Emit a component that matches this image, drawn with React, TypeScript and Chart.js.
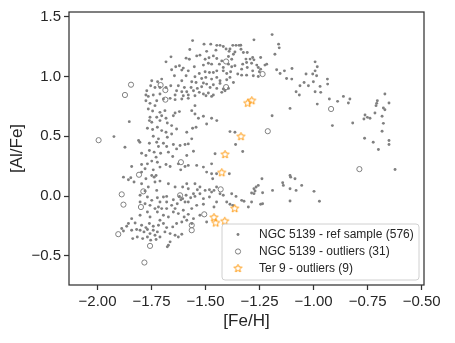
import React, { useEffect, useRef } from "react";
import { Chart, registerables } from "chart.js";

Chart.register(...registerables);

const FONT = "'Liberation Sans', Arial, Helvetica, sans-serif";
const TEXT = "#262626";
const SPINE = "#333333";
const GREY = "#808080";
const ORANGE = "#ff9a10";

const xTicks = [-2.0, -1.75, -1.5, -1.25, -1.0, -0.75, -0.5];
const yTicks = [-0.5, 0.0, 0.5, 1.0, 1.5];
const xRange = [-2.132, -0.489];
const yRange = [-0.744, 1.539];

const legendLabels = [
  "NGC 5139 - ref sample (576)",
  "NGC 5139 - outliers (31)",
  "Ter 9 - outliers (9)",
];

// [Fe/H], [Al/Fe]
const refSample: [number, number][] = [
  [-1.56, 1.3], [-1.507, 1.27], [-1.476, 1.27], [-1.448, 1.26], [-1.433, 1.26], [-1.418, 1.25], [-1.387, 1.23], [-1.374, 1.26], [-1.359, 1.26], [-1.345, 1.26],
  [-1.573, 1.225], [-1.495, 1.21], [-1.452, 1.22], [-1.405, 1.23], [-1.391, 1.21], [-1.364, 1.205], [-1.371, 1.186],
  [-1.66, 1.164], [-1.59, 1.153], [-1.575, 1.144], [-1.541, 1.172], [-1.526, 1.178], [-1.502, 1.144], [-1.484, 1.156], [-1.464, 1.172], [-1.448, 1.15], [-1.425, 1.13], [-1.394, 1.167], [-1.379, 1.144],
  [-1.683, 1.122], [-1.638, 1.081], [-1.621, 1.089], [-1.603, 1.07], [-1.552, 1.081], [-1.51, 1.095], [-1.487, 1.111], [-1.472, 1.103], [-1.436, 1.103], [-1.418, 1.075], [-1.394, 1.103], [-1.379, 1.081], [-1.364, 1.089],
  [-1.657, 1.056], [-1.61, 1.053], [-1.58, 1.047], [-1.529, 1.025], [-1.502, 1.039], [-1.482, 1.033], [-1.464, 1.033], [-1.448, 1.047], [-1.418, 1.047], [-1.402, 1.025], [-1.384, 1.039], [-1.351, 1.02],
  [-1.644, 1.006], [-1.59, 1.006], [-1.549, 0.997], [-1.518, 0.983], [-1.499, 0.992], [-1.472, 0.978], [-1.448, 0.992], [-1.433, 0.964], [-1.402, 0.972], [-1.387, 0.992], [-1.371, 0.95],
  [-1.61, 0.964], [-1.564, 0.956], [-1.544, 0.95], [-1.51, 0.945], [-1.495, 0.936], [-1.464, 0.931], [-1.433, 0.942], [-1.722, 0.956], [-1.703, 0.978], [-1.749, 0.964],
  [-1.754, 0.922], [-1.734, 0.908], [-1.711, 0.908], [-1.683, 0.908], [-1.661, 0.922], [-1.626, 0.922], [-1.598, 0.908], [-1.567, 0.908], [-1.538, 0.9], [-1.518, 0.914], [-1.479, 0.908], [-1.448, 0.9], [-1.418, 0.895], [-1.394, 0.9],
  [-1.772, 0.881], [-1.634, 0.881], [-1.61, 0.872], [-1.587, 0.872], [-1.556, 0.881], [-1.529, 0.867], [-1.51, 0.853], [-1.487, 0.861], [-1.464, 0.845], [-1.425, 0.867], [-1.41, 0.881],
  [-1.776, 0.845], [-1.765, 0.833], [-1.742, 0.845], [-1.711, 0.853], [-1.641, 0.845], [-1.603, 0.839], [-1.58, 0.845], [-1.549, 0.839], [-1.498, 0.839], [-1.472, 0.833],
  [-1.776, 0.797], [-1.757, 0.775], [-1.726, 0.797], [-1.695, 0.811], [-1.664, 0.817], [-1.641, 0.806], [-1.61, 0.811], [-1.58, 0.817], [-1.549, 0.756], [-1.734, 0.756],
  [-1.765, 0.728], [-1.745, 0.711], [-1.711, 0.7], [-1.688, 0.714], [-1.641, 0.695], [-1.621, 0.706], [-1.564, 0.714], [-1.549, 0.686], [-1.51, 0.667],
  [-1.757, 0.659], [-1.726, 0.659], [-1.703, 0.672], [-1.683, 0.65], [-1.649, 0.672], [-1.533, 0.65], [-1.495, 0.603], [-1.472, 0.65],
  [-1.853, 0.622], [-1.76, 0.631], [-1.749, 0.617], [-1.711, 0.631], [-1.677, 0.611], [-1.657, 0.589], [-1.634, 0.561], [-1.723, 0.575], [-1.745, 0.556], [-1.769, 0.567], [-1.703, 0.547], [-1.683, 0.533], [-1.657, 0.519], [-1.587, 0.533], [-1.56, 0.567], [-1.544, 0.575], [-1.448, 0.631], [-1.387, 0.539], [-1.364, 0.533],
  [-1.924, 0.497], [-1.81, 0.464], [-1.742, 0.5], [-1.718, 0.478], [-1.677, 0.492], [-1.564, 0.478],
  [-1.192, 1.35], [-1.276, 1.306], [-1.162, 1.27], [-1.159, 1.239], [-1.337, 1.261], [-1.336, 1.228], [-1.325, 1.2], [-1.307, 1.2], [-1.179, 1.186],
  [-1.313, 1.145], [-1.294, 1.145], [-1.282, 1.158], [-1.276, 1.139], [-1.245, 1.158],
  [-1.328, 1.103], [-1.31, 1.117], [-1.287, 1.111], [-1.263, 1.095], [-1.256, 1.075], [-1.245, 1.061], [-1.225, 1.095], [-1.217, 1.103],
  [-1.333, 1.061], [-1.307, 1.075], [-1.282, 1.047], [-1.251, 1.039], [-1.333, 1.011], [-1.31, 1.011], [-1.279, 1.006], [-1.256, 1.0],
  [-1.171, 1.056], [-1.155, 1.025], [-1.135, 1.047], [-1.1, 1.067], [-1.125, 0.983], [-1.101, 0.978],
  [-0.993, 1.122], [-0.983, 1.081], [-0.993, 1.047], [-1.004, 1.02], [-0.986, 1.006], [-1.035, 1.02], [-1.044, 0.95], [-1.063, 0.922], [-1.024, 0.922], [-1.001, 0.956], [-0.97, 0.917], [-0.936, 0.978], [-0.935, 0.936],
  [-1.081, 0.872], [-1.066, 0.845], [-0.993, 0.872], [-0.967, 0.867], [-0.927, 0.811], [-0.983, 0.769], [-1.109, 0.733], [-0.889, 0.792], [-0.862, 0.833], [-0.832, 0.811], [-0.839, 0.778],
  [-1.192, 0.672], [-0.913, 0.589], [-0.819, 0.611],
  [-0.67, 0.853], [-0.705, 0.797], [-0.708, 0.775], [-0.711, 0.756], [-0.651, 0.778], [-0.677, 0.736], [-0.67, 0.722], [-0.716, 0.694], [-0.683, 0.667], [-0.762, 0.678], [-0.751, 0.658], [-0.767, 0.644], [-0.739, 0.65], [-0.677, 0.608], [-0.683, 0.542], [-0.764, 0.483],
  [-1.328, 0.372], [-0.724, 0.45], [-0.651, 0.464], [-0.651, 0.431], [-0.7, 0.389], [-0.623, 0.222],
  [-1.239, 0.145], [-1.256, 0.089], [-1.266, 0.075], [-1.276, 0.061], [-1.271, 0.042], [-1.287, 0.025], [-1.276, 0.02], [-1.236, 0.028], [-1.19, 0.047], [-1.143, 0.111], [-1.14, 0.089], [-1.109, 0.172], [-1.106, 0.158], [-1.086, 0.145], [-1.109, 0.061], [-1.081, 0.047], [-1.055, 0.089], [-0.998, 0.039], [-1.109, -0.042], [-0.973, -0.044],
  [-1.333, -0.036], [-1.322, -0.044], [-1.302, -0.092], [-1.287, -0.05], [-1.245, -0.069], [-1.236, -0.064],
  [-1.873, 0.408], [-1.796, 0.358], [-1.776, 0.339], [-1.76, 0.381], [-1.738, 0.367], [-1.718, 0.414], [-1.708, 0.358], [-1.729, 0.325], [-1.672, 0.367], [-1.649, 0.431], [-1.634, 0.394], [-1.618, 0.422], [-1.595, 0.431], [-1.58, 0.436], [-1.556, 0.375], [-1.587, 0.339], [-1.652, 0.331], [-1.456, 0.353], [-1.361, 0.431],
  [-1.804, 0.45], [-1.76, 0.442], [-1.726, 0.45], [-1.695, 0.442], [-1.68, 0.414],
  [-1.796, 0.264], [-1.769, 0.269], [-1.749, 0.292], [-1.723, 0.283], [-1.683, 0.264], [-1.664, 0.247], [-1.626, 0.269], [-1.595, 0.247], [-1.58, 0.256], [-1.615, 0.219], [-1.78, 0.228], [-1.742, 0.219], [-1.711, 0.242], [-1.796, 0.2], [-1.842, 0.247], [-1.541, 0.256], [-1.51, 0.242], [-1.472, 0.269], [-1.495, 0.2], [-1.467, 0.144], [-1.449, 0.186], [-1.39, 0.186], [-1.472, 0.186],
  [-1.88, 0.158], [-1.857, 0.136], [-1.846, 0.153], [-1.831, 0.117], [-1.776, 0.144], [-1.749, 0.172], [-1.738, 0.158], [-1.729, 0.172], [-1.734, 0.117], [-1.711, 0.125], [-1.672, 0.103], [-1.765, 0.075], [-1.726, 0.047], [-1.78, 0.042], [-1.796, 0.103],
  [-1.641, 0.075], [-1.606, 0.075], [-1.587, 0.103], [-1.58, 0.061], [-1.549, 0.103], [-1.538, 0.053], [-1.526, 0.075], [-1.502, 0.047], [-1.482, 0.053], [-1.472, 0.033], [-1.461, 0.047], [-1.449, 0.075], [-1.526, 0.019], [-1.556, 0.019], [-1.433, 0.019], [-1.418, 0.006], [-1.379, 0.019], [-1.359, -0.003],
  [-1.803, 0.006], [-1.769, -0.008], [-1.749, -0.036], [-1.723, -0.014], [-1.695, -0.008], [-1.68, -0.003], [-1.649, -0.031], [-1.621, -0.003], [-1.606, -0.022], [-1.59, 0.006], [-1.569, -0.014], [-1.549, -0.003], [-1.51, -0.022], [-1.482, -0.008],
  [-1.58, -0.05], [-1.595, -0.05], [-1.614, -0.031], [-1.631, -0.064], [-1.657, -0.078], [-1.68, -0.05], [-1.711, -0.05], [-1.718, -0.092], [-1.734, -0.105], [-1.757, -0.078], [-1.78, -0.064], [-1.803, -0.05],
  [-1.703, -0.105], [-1.68, -0.105], [-1.641, -0.105], [-1.603, -0.119], [-1.564, -0.105], [-1.541, -0.078], [-1.51, -0.069], [-1.449, -0.05], [-1.402, -0.05], [-1.387, -0.069], [-1.374, -0.078], [-1.461, -0.092],
  [-1.842, -0.189], [-1.803, -0.161], [-1.769, -0.133], [-1.757, -0.175], [-1.723, -0.133], [-1.711, -0.203], [-1.695, -0.161], [-1.672, -0.175], [-1.649, -0.133], [-1.626, -0.147], [-1.599, -0.175], [-1.58, -0.153], [-1.556, -0.189], [-1.526, -0.161], [-1.495, -0.217],
  [-1.857, -0.23], [-1.826, -0.225], [-1.796, -0.244], [-1.776, -0.264], [-1.76, -0.23], [-1.742, -0.253], [-1.718, -0.244], [-1.695, -0.23], [-1.68, -0.264], [-1.652, -0.258], [-1.634, -0.23], [-1.61, -0.217], [-1.587, -0.203], [-1.564, -0.23],
  [-1.888, -0.272], [-1.88, -0.292], [-1.865, -0.253], [-1.842, -0.286], [-1.819, -0.28], [-1.803, -0.286], [-1.785, -0.3], [-1.769, -0.28], [-1.757, -0.314], [-1.742, -0.286], [-1.734, -0.328], [-1.723, -0.3], [-1.711, -0.342], [-1.688, -0.3], [-1.664, -0.314], [-1.641, -0.328], [-1.626, -0.342], [-1.61, -0.319],
  [-1.837, -0.356], [-1.816, -0.342], [-1.791, -0.356], [-1.769, -0.342], [-1.754, -0.369], [-1.729, -0.364], [-1.664, -0.383], [-1.672, -0.411], [-1.677, -0.425],
];

const outliers: [number, number][] = [
  [-1.845, 0.931], [-1.873, 0.845], [-1.995, 0.467], [-1.708, 0.928], [-1.686, 0.886], [-1.686, 0.806], [-1.405, 1.125], [-1.405, 0.911],
  [-1.236, 1.02], [-0.919, 0.728], [-1.212, 0.542], [-0.788, 0.225],
  [-1.808, 0.178], [-1.614, 0.283], [-1.788, 0.039], [-1.888, 0.014], [-1.88, -0.072], [-1.43, 0.056], [-1.618, 0.006], [-1.799, -0.092],
  [-1.506, -0.153], [-1.564, -0.244], [-1.564, -0.286], [-1.904, -0.319], [-1.757, -0.417], [-1.783, -0.556],
];

const ter9: [number, number][] = [
  [-1.305, 0.776], [-1.286, 0.797], [-1.336, 0.497], [-1.41, 0.347], [-1.425, 0.195],
  [-1.365, -0.105], [-1.461, -0.18], [-1.453, -0.225], [-1.411, -0.211],
];

const toXY = (arr: [number, number][]) => arr.map(([x, y]) => ({ x, y }));

function makeStar(r: number, color: string, fill?: string) {
  const s = Math.ceil(r * 2 + 4);
  const c = document.createElement("canvas");
  c.width = s;
  c.height = s;
  const ctx = c.getContext("2d")!;
  ctx.beginPath();
  for (let i = 0; i < 10; i++) {
    const ang = -Math.PI / 2 + (i * Math.PI) / 5;
    const rr = i % 2 === 0 ? r : r * 0.45;
    const px = s / 2 + rr * Math.cos(ang);
    const py = s / 2 + rr * Math.sin(ang);
    if (i === 0) ctx.moveTo(px, py);
    else ctx.lineTo(px, py);
  }
  ctx.closePath();
  if (fill) {
    ctx.fillStyle = fill;
    ctx.fill();
  }
  ctx.strokeStyle = color;
  ctx.lineWidth = 1;
  ctx.stroke();
  return c;
}

const fmt = (v: number, d: number) => (v < 0 ? "\u2212" : "") + Math.abs(v).toFixed(d);

export default function App() {
  const ref = useRef<HTMLCanvasElement | null>(null);

  useEffect(() => {
    if (!ref.current) return;
    const star = makeStar(4.2, ORANGE);

    const framePlugin = {
      id: "frame",
      afterDatasetsDraw(chart: any) {
        const { ctx, chartArea: a } = chart;
        ctx.save();
        ctx.strokeStyle = SPINE;
        ctx.lineWidth = 1.25;
        ctx.strokeRect(a.left, a.top, a.right - a.left, a.bottom - a.top);
        ctx.restore();
      },
      afterDraw(chart: any) {
        const { ctx, chartArea: a } = chart;
        const w = 197;
        const h = 56;
        const right = a.right - 5;
        const bottom = a.bottom - 5;
        const left = right - w;
        const top = bottom - h;
        ctx.save();
        ctx.beginPath();
        const r = 3;
        ctx.moveTo(left + r, top);
        ctx.lineTo(right - r, top);
        ctx.quadraticCurveTo(right, top, right, top + r);
        ctx.lineTo(right, bottom - r);
        ctx.quadraticCurveTo(right, bottom, right - r, bottom);
        ctx.lineTo(left + r, bottom);
        ctx.quadraticCurveTo(left, bottom, left, bottom - r);
        ctx.lineTo(left, top + r);
        ctx.quadraticCurveTo(left, top, left + r, top);
        ctx.closePath();
        ctx.fillStyle = "rgba(255,255,255,0.8)";
        ctx.fill();
        ctx.strokeStyle = "#d0d0d0";
        ctx.lineWidth = 1;
        ctx.stroke();

        const mx = left + 16;
        const rows = [top + 10.5, top + 27.5, top + 44.5];
        ctx.fillStyle = GREY;
        ctx.beginPath();
        ctx.arc(mx, rows[0], 1.45, 0, Math.PI * 2);
        ctx.fill();
        ctx.strokeStyle = GREY;
        ctx.lineWidth = 1;
        ctx.beginPath();
        ctx.arc(mx, rows[1], 2.6, 0, Math.PI * 2);
        ctx.stroke();
        ctx.drawImage(star, mx - star.width / 2, rows[2] - star.height / 2);

        ctx.fillStyle = TEXT;
        ctx.font = `12px ${FONT}`;
        ctx.textAlign = "left";
        ctx.textBaseline = "middle";
        legendLabels.forEach((t, i) => ctx.fillText(t, left + 37, rows[i]));
        ctx.restore();
      },
    };

    const chart = new Chart(ref.current, {
      type: "scatter",
      data: {
        datasets: [
          {
            label: legendLabels[2],
            data: toXY(ter9),
            pointStyle: star as any,
            pointRadius: 4,
            order: 0,
          },
          {
            label: legendLabels[1],
            data: toXY(outliers),
            pointStyle: "circle",
            pointRadius: 2.6,
            borderColor: GREY,
            borderWidth: 1,
            backgroundColor: "rgba(0,0,0,0)",
            order: 1,
          },
          {
            label: legendLabels[0],
            data: toXY(refSample),
            pointStyle: "circle",
            pointRadius: 1.45,
            borderWidth: 0,
            backgroundColor: GREY,
            order: 2,
          },
        ],
      },
      options: {
        animation: false,
        responsive: false,
        devicePixelRatio: 1,
        events: [],
        layout: { padding: { top: 11, right: 31, left: 0, bottom: 0 } },
        plugins: { legend: { display: false }, tooltip: { enabled: false } },
        scales: {
          x: {
            type: "linear",
            min: xRange[0],
            max: xRange[1],
            afterBuildTicks: (axis: any) => {
              axis.ticks = xTicks.map((v) => ({ value: v }));
            },
            afterFit: (scale: any) => {
              scale.height = 58;
            },
            border: { display: false },
            grid: {
              display: true,
              drawOnChartArea: false,
              drawTicks: true,
              tickLength: 5,
              tickColor: SPINE,
              tickWidth: 1.25,
            },
            ticks: {
              autoSkip: false,
              maxRotation: 0,
              padding: 3,
              color: TEXT,
              font: { family: FONT, size: 15 },
              callback: (v: any) => fmt(Number(v), 2),
            },
            title: {
              display: true,
              text: "[Fe/H]",
              color: TEXT,
              font: { family: FONT, size: 17 },
              padding: { top: 0, bottom: 11 },
            },
          },
          y: {
            type: "linear",
            min: yRange[0],
            max: yRange[1],
            afterBuildTicks: (axis: any) => {
              axis.ticks = yTicks.map((v) => ({ value: v }));
            },
            afterFit: (scale: any) => {
              scale.width = 69;
            },
            border: { display: false },
            grid: {
              display: true,
              drawOnChartArea: false,
              drawTicks: true,
              tickLength: 5,
              tickColor: SPINE,
              tickWidth: 1.25,
            },
            ticks: {
              padding: 3,
              color: TEXT,
              font: { family: FONT, size: 15 },
              callback: (v: any) => fmt(Number(v), 1),
            },
            title: {
              display: true,
              text: "[Al/Fe]",
              color: TEXT,
              font: { family: FONT, size: 17 },
              padding: { top: 7, bottom: 0 },
            },
          },
        },
      },
      plugins: [framePlugin],
    } as any);

    return () => chart.destroy();
  }, []);

  return (
    <div style={{ position: "absolute", left: 0, top: 0, width: 455, height: 343, background: "#fff" }}>
      <canvas ref={ref} width={455} height={343} style={{ display: "block" }} />
    </div>
  );
}
